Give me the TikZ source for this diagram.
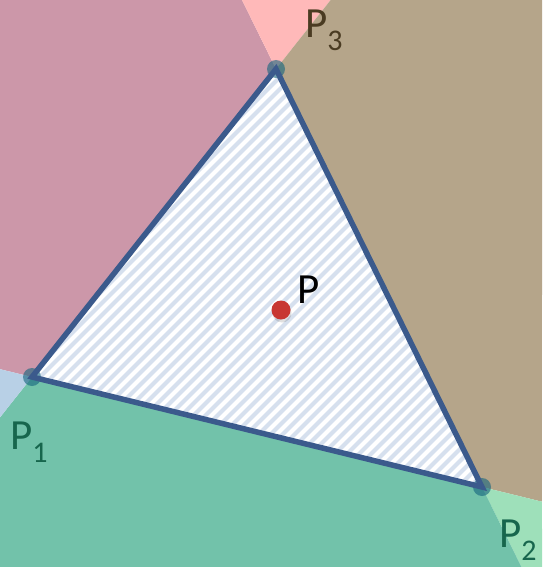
\documentclass[tikz,border=0pt]{standalone}
\usepackage{fontspec}
\setmainfont{Carlito}
\usepackage{tikz}
\usetikzlibrary{calc}
\definecolor{mauve}{RGB}{204,151,169}
\definecolor{rosy}{RGB}{255,185,185}
\definecolor{tan}{RGB}{181,165,138}
\definecolor{sea}{RGB}{114,194,170}
\definecolor{mint}{RGB}{158,224,186}
\definecolor{sky}{RGB}{184,208,230}
\definecolor{edge}{RGB}{59,90,140}
\definecolor{hatch}{RGB}{214,224,238}
\definecolor{vtx}{RGB}{20,100,125}
\definecolor{pdot}{RGB}{200,55,50}
\definecolor{lblgreen}{RGB}{23,102,77}
\definecolor{lblbrown}{RGB}{74,59,34}
\newcommand{\lowidx}[1]{\raisebox{-13pt}{\fontsize{30}{36}\selectfont #1}}

\begin{document}
\begin{tikzpicture}[x=1pt,y=-1pt,
  lbl/.style={inner sep=0pt,anchor=base west,font=\fontsize{43}{50}\selectfont},
  vdot/.style={fill=vtx,fill opacity=0.6},
  hatchline/.style={hatch,line width=4.2pt}]
\useasboundingbox (0,0) rectangle (542,567);
% vertices and the point
\coordinate (P1) at (32,377);
\coordinate (P2) at (482,487);
\coordinate (P3) at (276,69);
\coordinate (P) at (281,310);
% edge lines, extended to the border
\coordinate (a3) at ($(P1)!1.2240!(P3)$);
\coordinate (a1) at ($(P3)!1.1311!(P1)$);
\coordinate (b3) at ($(P2)!1.1651!(P3)$);
\coordinate (b2) at ($(P3)!1.1914!(P2)$);
\coordinate (c1) at ($(P2)!1.0711!(P1)$);
\coordinate (c2) at ($(P1)!1.1333!(P2)$);
% regions
\fill[mauve] (0,0) -- (b3) -- (P3) -- (P1) -- (c1) -- cycle;
\fill[rosy] (b3) -- (a3) -- (P3) -- cycle;
\fill[tan] (a3) -- (542,0) -- (c2) -- (P2) -- (P3) -- cycle;
\fill[mint] (c2) -- (542,567) -- (b2) -- (P2) -- cycle;
\fill[sea] (b2) -- (0,567) -- (a1) -- (P1) -- (P2) -- cycle;
\fill[sky] (c1) -- (P1) -- (a1) -- cycle;
% triangle
\fill[white] (P1) -- (P2) -- (P3) -- cycle;
\begin{scope}
  \clip (P1) -- (P2) -- (P3) -- cycle;
  \foreach \c in {333,345,...,993}
    \draw[hatchline] (\c-600,600) -- (\c,0);
\end{scope}
\foreach \v in {P1,P2,P3}
  \fill[vdot] (\v) circle[radius=9pt];
\draw[edge,line width=5.5pt] (P1) -- (P2) -- (P3) -- cycle;
\fill[black,opacity=0.12] ($(P)+(1,3)$) circle[radius=9.5pt];
\fill[pdot] (P) circle[radius=9.5pt];
% labels
\node[lbl,text=lblgreen] (l1) at (10,449) {P\lowidx{1}};
\node[lbl,text=lblgreen] (l2) at (499,547) {P\lowidx{2}};
\node[lbl,text=lblbrown] (l3) at (305,38) {P\lowidx{3}};
\node[lbl,text=black] (lp) at (297,303) {P};
\end{tikzpicture}
\end{document}
